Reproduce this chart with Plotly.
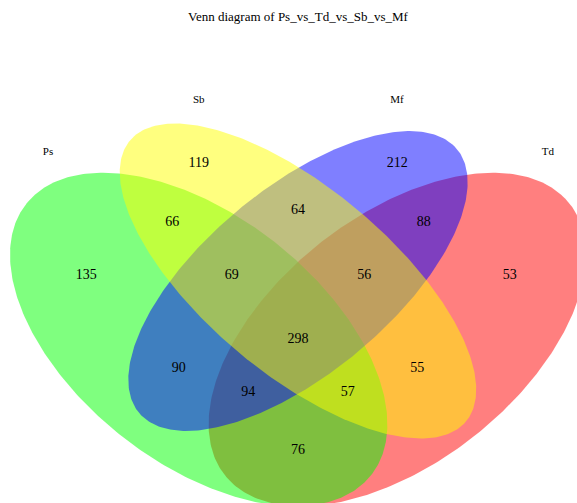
import numpy as np
import plotly.graph_objects as go

# ---- data ----
set_names = ["Ps", "Sb", "Mf", "Td"]
# region counts (VennDiagram quad layout order a1..a15)
region_labels = ["Sb", "Sb&Mf", "Mf", "Ps&Sb", "Ps&Sb&Mf", "Ps&Sb&Mf&Td", "Sb&Mf&Td",
                 "Mf&Td", "Ps", "Ps&Mf", "Ps&Mf&Td", "Ps&Td", "Ps&Sb&Td", "Sb&Td", "Td"]
region_counts = [119, 64, 212, 66, 69, 298, 56, 88, 135, 90, 94, 76, 57, 55, 53]
title_text = "Venn diagram of Ps_vs_Td_vs_Sb_vs_Mf"

# ---- layout (VennDiagram draw.quad.venn geometry, npc units) ----
# drawing order: Td, Ps, Mf, Sb
ellipses = [
    dict(name="Td", x=0.65, y=0.47, a=0.35, b=0.20, rot=45, color=(255, 0, 0)),
    dict(name="Ps", x=0.35, y=0.47, a=0.35, b=0.20, rot=135, color=(0, 255, 0)),
    dict(name="Mf", x=0.50, y=0.57, a=0.33, b=0.15, rot=45, color=(0, 0, 255)),
    dict(name="Sb", x=0.50, y=0.57, a=0.35, b=0.15, rot=135, color=(255, 255, 0)),
]
region_pos = [(0.35, 0.77), (0.5, 0.69), (0.65, 0.77), (0.31, 0.67), (0.40, 0.58),
              (0.5, 0.47), (0.60, 0.58), (0.69, 0.67), (0.18, 0.58), (0.32, 0.42),
              (0.425, 0.38), (0.5, 0.28), (0.575, 0.38), (0.68, 0.42), (0.82, 0.58)]
cat_pos = {"Ps": (0.1224, 0.7905), "Sb": (0.35, 0.879), "Mf": (0.6495, 0.879), "Td": (0.8776, 0.7905)}

FONT = "Liberation Serif, Times New Roman, serif"

fig = go.Figure()
t = np.linspace(0, 2 * np.pi, 400)
for e in ellipses:
    r = np.deg2rad(e["rot"])
    xs = e["x"] + e["a"] * np.cos(t) * np.cos(r) - e["b"] * np.sin(t) * np.sin(r)
    ys = e["y"] + e["a"] * np.cos(t) * np.sin(r) + e["b"] * np.sin(t) * np.cos(r)
    c = e["color"]
    fig.add_trace(go.Scatter(x=xs, y=ys, mode="lines", fill="toself",
                             fillcolor=f"rgba({c[0]},{c[1]},{c[2]},0.5)",
                             line=dict(width=0), hoverinfo="skip", showlegend=False))

fig.add_trace(go.Scatter(x=[p[0] for p in region_pos], y=[p[1] for p in region_pos],
                         mode="text", text=[str(v) for v in region_counts],
                         textfont=dict(family=FONT, size=14, color="black"),
                         hovertext=region_labels, showlegend=False))
fig.add_trace(go.Scatter(x=[cat_pos[n][0] for n in set_names], y=[cat_pos[n][1] for n in set_names],
                         mode="text", text=set_names,
                         textfont=dict(family=FONT, size=11, color="black"),
                         showlegend=False))

fig.update_layout(
    width=577, height=503,
    margin=dict(l=0, r=0, t=0, b=0),
    paper_bgcolor="white", plot_bgcolor="white",
    xaxis=dict(range=[0.04985, 0.9215], visible=False, fixedrange=True),
    yaxis=dict(range=[0.1905, 1.0503], visible=False, fixedrange=True),
    annotations=[dict(text=title_text, x=298 / 577, y=1 - 17 / 503, xref="paper", yref="paper",
                      yanchor="middle", showarrow=False,
                      font=dict(family=FONT, size=13, color="black"))],
)
fig.write_html("out.html", config={"displayModeBar": False},
               post_script="document.body.style.margin='0';document.body.style.overflow='hidden';")
